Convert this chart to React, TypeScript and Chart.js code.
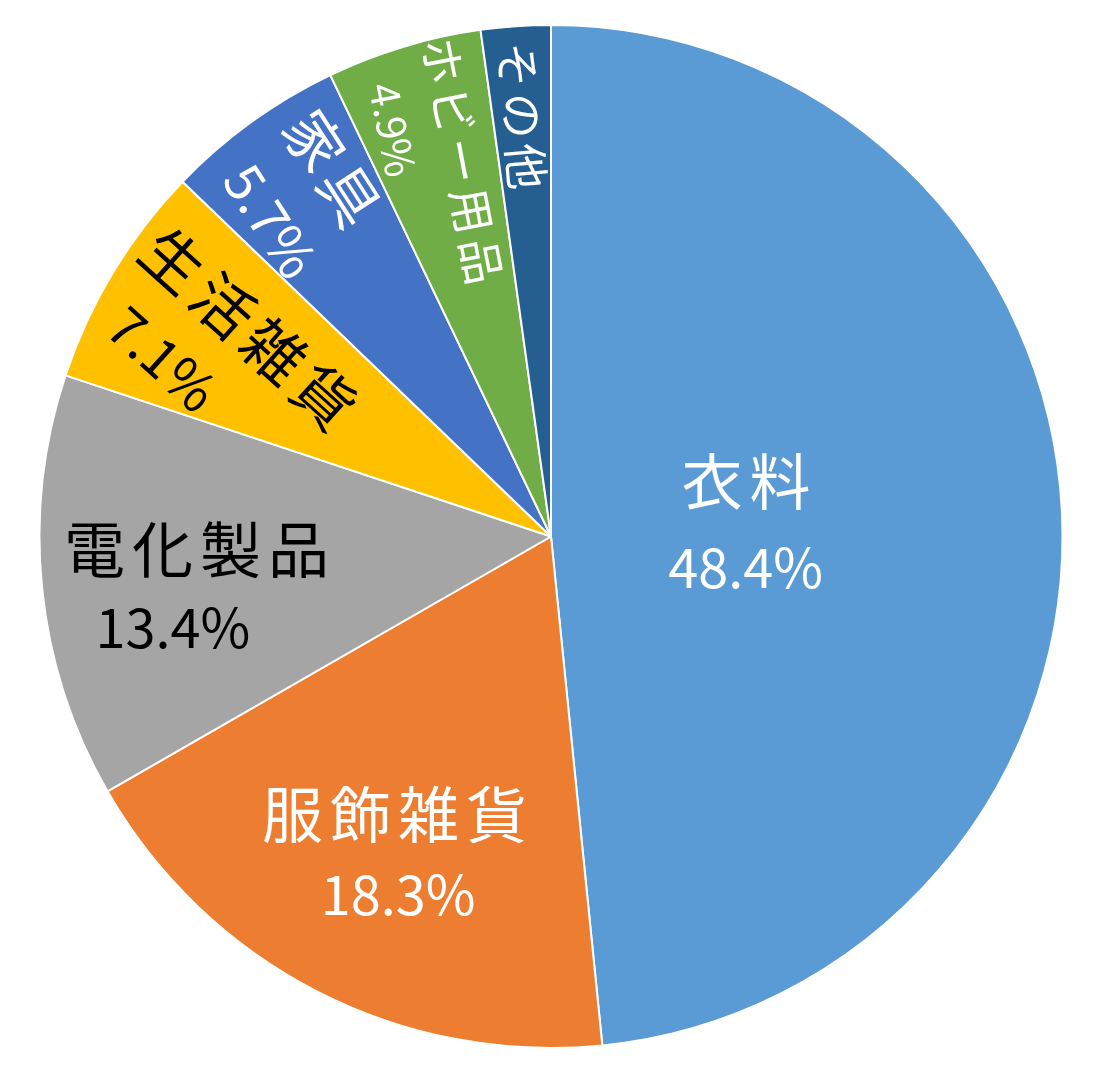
import React, { useEffect, useRef } from "react";
import { Chart, registerables } from "chart.js";

Chart.register(...registerables);

const categories = ["衣料", "服飾雑貨", "電化製品", "生活雑貨", "家具", "ホビー用品", "その他"];
const shares = [48.4, 18.3, 13.4, 7.1, 5.7, 4.9, 2.2];
const showPercent = [true, true, true, true, true, true, false];
const sliceColors = ["#5B9BD5", "#ED7D31", "#A5A5A5", "#FFC000", "#4472C4", "#70AD47", "#255E91"];

// label placement per slice: radial factor, angle tweak (deg), rotation (deg or null)
const labelStyle = [
    { f: 0.385, da: -0.6, rot: null, size: 61, color: "#fff", lh: 85, shift: -4 },
    { f: 0.69, da: -1.5, rot: null, size: 61, color: "#fff", lh: 79, shift: 0 },
    { f: 0.72, da: -2.4, rot: null, size: 61, color: "#000", lh: 78, shift: -27 },
    { f: 0.77, da: -2, rot: 42, size: 61, color: "#000", lh: 80, shift: -47 },
    { f: 0.825, da: -0.3, rot: 57, size: 59, color: "#fff", lh: 80, shift: 8 },
    { f: 0.8, da: -0.8, rot: 79, size: 46, color: "#fff", lh: 62, shift: -46 },
    { f: 0.82, da: 0, rot: 85, size: 46, color: "#fff", lh: 62, shift: 0 },
];

const FONT = '"Noto Sans CJK JP", "Noto Sans", sans-serif';

const sliceLabels = {
    id: "sliceLabels",
    afterDatasetsDraw(chart: Chart) {
        const ctx = chart.ctx;
        const meta = chart.getDatasetMeta(0);
        meta.data.forEach((el: any, i: number) => {
            const { x, y, startAngle, endAngle, outerRadius } = el.getProps(
                ["x", "y", "startAngle", "endAngle", "outerRadius"],
                true
            );
            const s = labelStyle[i];
            const mid = (startAngle + endAngle) / 2 + (s.da * Math.PI) / 180;
            const px = x + Math.cos(mid) * outerRadius * s.f;
            const py = y + Math.sin(mid) * outerRadius * s.f;
            const lines = [categories[i]];
            if (showPercent[i]) lines.push(`${shares[i].toFixed(1)}%`);

            ctx.save();
            ctx.translate(px, py);
            if (s.rot !== null) ctx.rotate((s.rot * Math.PI) / 180);
            ctx.fillStyle = s.color;
            ctx.textAlign = "center";
            ctx.textBaseline = "middle";
            const top = -((lines.length - 1) * s.lh) / 2;
            const half = lines.length > 1 ? s.shift / 2 : 0;
            lines.forEach((t, k) => {
                if (k === 0) {
                    ctx.font = `${s.size}px ${FONT}`;
                    (ctx as any).letterSpacing = `${Math.round(s.size * 0.11)}px`;
                } else {
                    ctx.font = `${Math.round(s.size * 0.89)}px ${FONT}`;
                    (ctx as any).letterSpacing = "0px";
                }
                ctx.fillText(t, k === 0 ? -half : half, top + k * s.lh);
            });
            ctx.restore();
        });
    },
};

export default function App() {
    const ref = useRef<HTMLCanvasElement | null>(null);

    useEffect(() => {
        if (!ref.current) return;

        const chart = new Chart(ref.current, {
            type: "pie",
            data: {
                labels: categories,
                datasets: [
                    {
                        data: shares,
                        backgroundColor: sliceColors,
                        borderColor: "#fff",
                        borderWidth: 2,
                    },
                ],
            },
            options: {
                responsive: false,
                animation: false,
                events: [],
                layout: { padding: { top: 24, bottom: 23, left: 0, right: 0 } },
                plugins: {
                    legend: { display: false },
                    tooltip: { enabled: false },
                },
            },
            plugins: [sliceLabels],
        });

        return () => chart.destroy();
    }, []);

    return (
        <div style={{ position: "absolute", left: 0, top: 0, width: 1102, height: 1072, background: "#fff" }}>
            <canvas ref={ref} width={1102} height={1072} />
        </div>
    );
}
